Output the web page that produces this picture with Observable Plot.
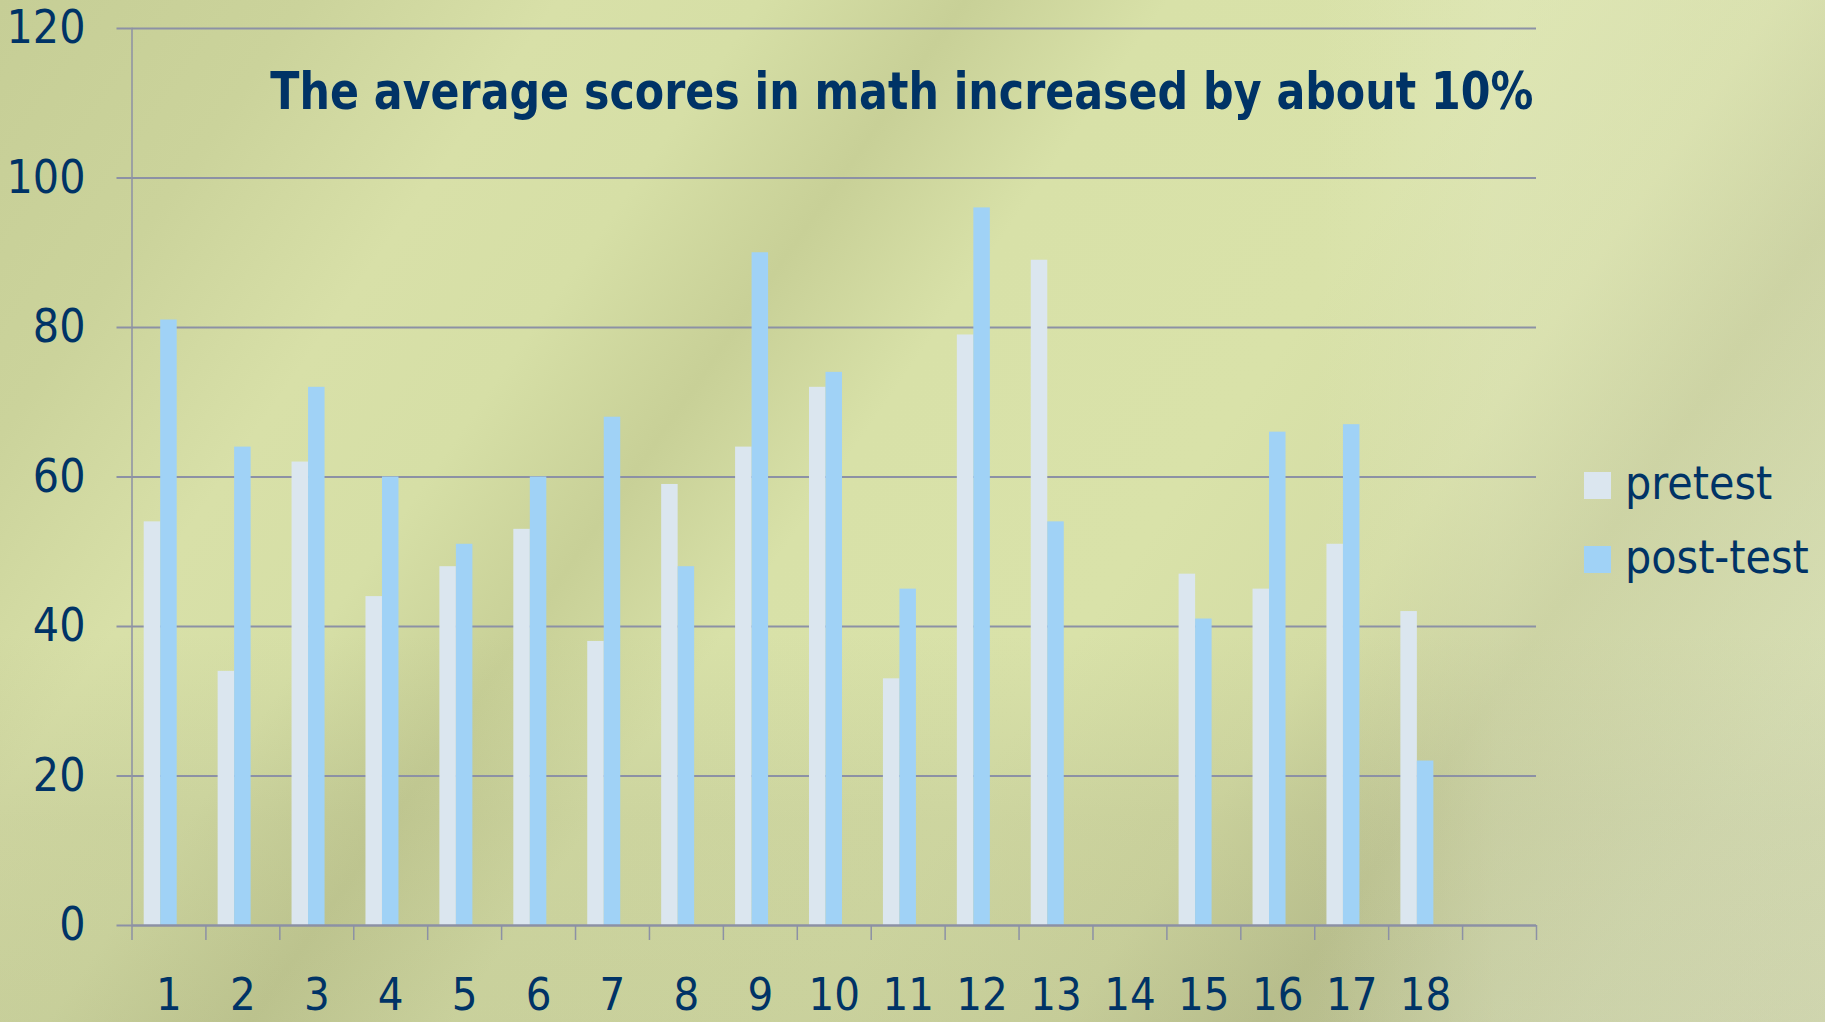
<!DOCTYPE html>
<html>
<head>
<meta charset="utf-8">
<script src="https://cdn.jsdelivr.net/npm/d3@7"></script>
<script src="https://cdn.jsdelivr.net/npm/@observablehq/plot@0.6"></script>
<style>
  html, body { margin: 0; padding: 0; overflow: hidden; }
  #wrap {
    position: relative; width: 1825px; height: 1022px; overflow: hidden;
    font-family: "DejaVu Sans Condensed", "DejaVu Sans", sans-serif;
    background:
      linear-gradient(90deg, rgba(0,0,0,0) 0%, rgba(0,0,0,0) 72%, rgba(235,240,210,0.25) 82%, rgba(235,240,210,0.25) 100%),
      linear-gradient(180deg, rgba(0,0,0,0) 0%, rgba(0,0,0,0) 62%, rgba(120,120,90,0.12) 80%, rgba(120,120,90,0.16) 100%),
      linear-gradient(125deg, #c6ce96 0%, #cbd39b 12%, #d8e0a8 22%, #d6dfa6 30%, #c8d097 38%, #d8e1a8 46%, #d9e2a9 60%, #d4dca4 70%, #c3ca95 78%, #cfd7a8 90%, #d5dcb0 100%);
  }
  #title {
    position: absolute; right: 292px; top: 66px; font-size: 51px; font-weight: bold;
    color: #003366; white-space: nowrap; line-height: 1; transform-origin: right center;
  }
  .leg { position: absolute; left: 1584px; font-size: 46px; color: #003366; white-space: nowrap; line-height: 1; }
  .leg .sw { position: absolute; left: 0; width: 27px; height: 27px; }
  .leg .lab { position: absolute; left: 41px; }
  #chart { position: absolute; left: 0; top: 0; }
</style>
</head>
<body>
<div id="wrap">
  <div id="chart"></div>
  <div id="title"></div>
  <div id="legend"></div>
</div>
<script>
// ---- data ----
const categories = ["1","2","3","4","5","6","7","8","9","10","11","12","13","14","15","16","17","18",""];
const seriesNames = ["pretest", "post-test"];
const pretest  = [54, 34, 62, 44, 48, 53, 38, 59, 64, 72, 33, 79, 89, null, 47, 45, 51, 42];
const posttest = [81, 64, 72, 60, 51, 60, 68, 48, 90, 74, 45, 96, 54, null, 41, 66, 67, 22];
const yTicks = [0, 20, 40, 60, 80, 100, 120];
const seriesColors = ["#dbe6ef", "#a0d2f6"];
const titleText = "The average scores in math increased by about 10%";

// ---- layout ----
const W = 1825, H = 1022;
const mL = 131.5, mR = 289, mT = 28, mB = 97;
const bw = (W - mL - mR) / categories.length;   // band width
const slot = bw / 4.48;                           // bar width (3 slots per group)
const outer = (bw - 3 * slot) / 2;
const grid = "#8c91a5";
const navy = "#003366";

const rows = [];
categories.forEach((c, i) => {
  if (i < pretest.length) {
    if (pretest[i] != null) rows.push({cat: c, series: "pretest", value: pretest[i]});
    if (posttest[i] != null) rows.push({cat: c, series: "post-test", value: posttest[i]});
  }
});

const chart = Plot.plot({
  width: W, height: H,
  marginLeft: mL, marginRight: mR, marginTop: mT, marginBottom: mB,
  style: {background: "transparent", fontFamily: "'DejaVu Sans Condensed', 'DejaVu Sans', sans-serif", overflow: "visible"},
  x: {domain: categories, padding: 0, round: false, axis: null},
  y: {domain: [0, 120], axis: null},
  color: {domain: seriesNames, range: seriesColors},
  marks: [
    Plot.gridY(yTicks.filter(d => d > 0), {stroke: grid, strokeOpacity: 1, strokeWidth: 2}),
    Plot.barY(rows.filter(d => d.series === "pretest"), {
      x: "cat", y: "value", fill: "series",
      insetLeft: outer, insetRight: bw - outer - slot
    }),
    Plot.barY(rows.filter(d => d.series === "post-test"), {
      x: "cat", y: "value", fill: "series",
      insetLeft: outer + slot, insetRight: bw - outer - 2 * slot
    }),
    Plot.frame({anchor: "left", stroke: grid, strokeWidth: 1.5}),
    Plot.ruleY([0], {stroke: grid, strokeWidth: 2.5}),
    // y axis ticks and labels
    Plot.axisY(yTicks, {tickSize: 15, tickFormat: () => "", stroke: grid, strokeWidth: 2, label: null}),
    Plot.axisY(yTicks, {tickSize: 0, tickPadding: 46.5, fontSize: 46, color: navy, label: null}),
    // x axis ticks at band edges
    Plot.axisX(categories, {tickSize: 15, tickFormat: () => "", dx: -bw / 2, stroke: grid, strokeWidth: 1.5, label: null}),
    Plot.axisX([categories[categories.length - 1]], {tickSize: 15, tickFormat: () => "", dx: bw / 2, stroke: grid, strokeWidth: 1.5, label: null}),
    // x labels
    Plot.axisX(categories, {tickSize: 0, tickPadding: 53, fontSize: 45, color: navy, label: null})
  ]
});
document.getElementById("chart").appendChild(chart);

// title
const t = document.getElementById("title");
t.textContent = titleText;
const tw = t.getBoundingClientRect().width;
t.style.transform = `scaleX(${1263 / tw})`;

// legend
const leg = document.getElementById("legend");
const legTops = [472, 546];
seriesNames.forEach((s, i) => {
  const d = document.createElement("div");
  d.className = "leg";
  d.style.top = legTops[i] + "px";
  d.innerHTML = `<div class="sw" style="background:${seriesColors[i]}"></div><div class="lab" style="top:-12px">${s}</div>`;
  leg.appendChild(d);
});
</script>
</body>
</html>
